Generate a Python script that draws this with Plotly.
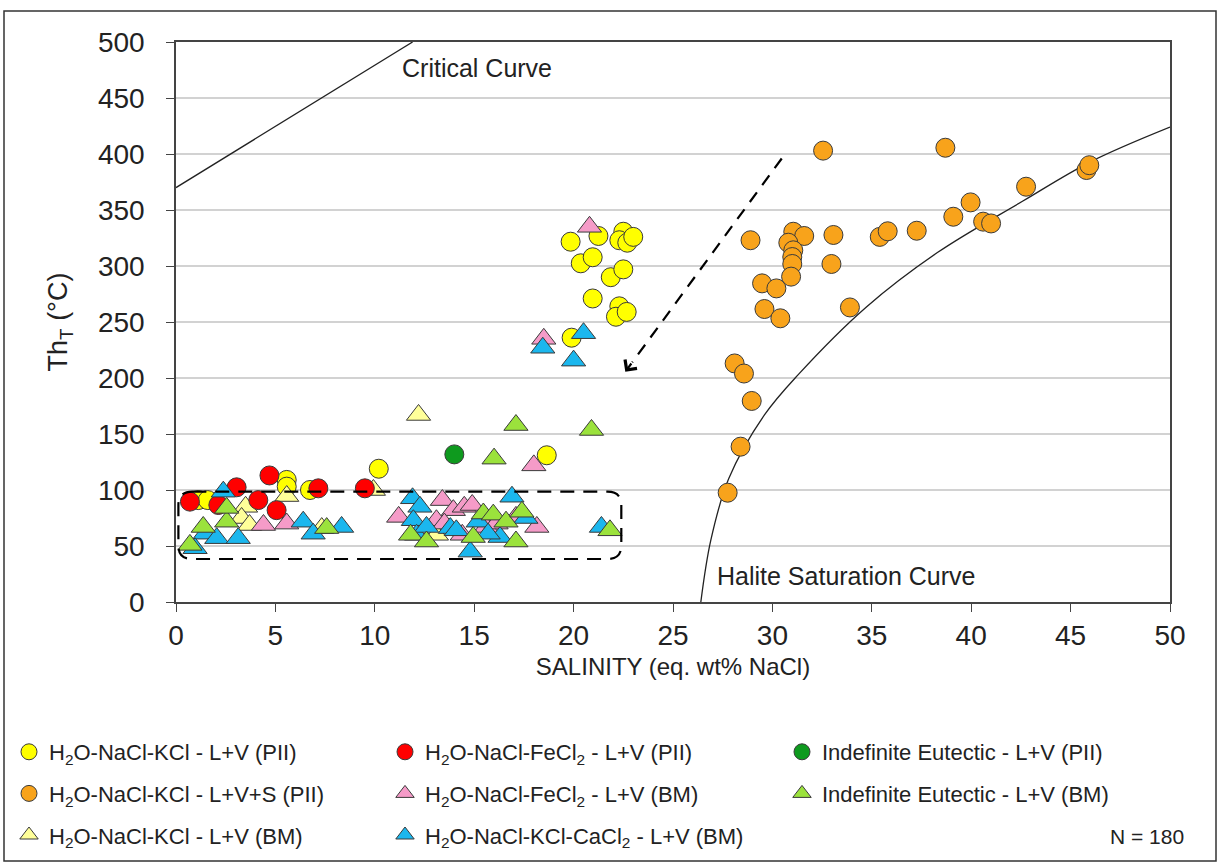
import plotly.graph_objects as go

# ---------------- data (salinity wt% NaCl, Th °C) ----------------
yellow_x = [19.85, 21.25, 22.5, 22.3, 22.7, 23.0, 20.36, 20.96, 21.87, 22.5, 20.96, 22.3, 22.13, 22.67,
            19.9, 18.65, 10.2, 1.12, 1.6, 5.57, 5.57, 6.74]
yellow_y = [321.7, 326.8, 330.6, 323, 320.8, 326, 302.4, 307.8, 290, 297, 271, 264, 254.7, 259,
            236, 131, 119, 91, 91, 109, 103, 100]

orange_x = [32.55, 28.9, 31.05, 31.6, 30.8, 31.05, 31.0, 31.0, 30.94, 33.07, 32.97, 29.48, 30.2, 29.6,
            30.4, 33.9, 35.4, 35.8, 37.26, 28.1, 28.57, 28.96, 28.4, 27.75, 38.7, 39.97, 39.1, 40.6,
            41.0, 42.76, 45.8, 45.94]
orange_y = [403, 323, 330.6, 326.8, 320.8, 314, 308, 301.8, 290.5, 327.7, 301.8, 284.5, 280, 261.6,
            253.3, 263, 326, 331, 331.5, 213, 204, 179.5, 138.7, 97.6, 405.6, 356.8, 344, 339.6,
            338, 370.8, 385.7, 390]

red_x = [4.7, 3.05, 4.14, 5.06, 7.16, 9.5, 0.7, 2.13]
red_y = [113, 102.4, 91, 82, 101.5, 101.5, 89.6, 86.6]

green_circ_x = [14.0]
green_circ_y = [131.8]

pink_x = [4.4, 5.57, 11.2, 13.4, 13.95, 14.5, 14.9, 13.1, 13.5, 14.4, 15.6, 16.1, 17.1, 18.15, 18.0,
          18.5, 20.8]
pink_y = [68.75, 70, 76, 91, 82, 85, 86.6, 73, 70, 60, 67, 70, 76, 67, 122, 235, 335]

lgreen_x = [2.55, 1.37, 0.7, 7.58, 2.55, 11.8, 12.6, 14.95, 15.46, 15.96, 16.6, 17.4, 17.1, 16.0, 17.1,
            20.9, 21.83]
lgreen_y = [71.7, 67, 51, 66, 84, 60, 54, 58, 79, 78, 71.7, 80.6, 54, 128, 158, 153.6, 64]

lyellow_x = [5.57, 3.5, 3.3, 3.7, 7.33, 13.1, 9.93, 12.2]
lyellow_y = [94.6, 85, 75, 68.75, 66, 60, 100, 167]

cyan_x = [2.38, 1.46, 2.05, 3.13, 6.4, 8.33, 0.96, 6.9, 11.9, 12.27, 11.94, 12.1, 13.8, 14.1, 15.2,
          14.8, 16.9, 16.3, 17.6, 12.6, 15.7, 18.45, 20.5, 20.0, 21.4]
cyan_y = [98.5, 61, 57, 57, 71.7, 67, 48, 61, 92.6, 85, 73, 60, 66, 64, 71.7, 45, 94, 58, 75, 67, 61,
          227, 240, 215.5, 67]

critical_x = [0, 11.9]
critical_y = [370, 500]

halite_x = [26.4, 26.9, 27.8, 29.6, 31.3, 34.7, 38.3, 42.6, 46.0, 50.0]
halite_y = [0, 55, 110, 167, 203, 263, 312, 358, 393, 424]

x_ticks = [0, 5, 10, 15, 20, 25, 30, 35, 40, 45, 50]
y_ticks = [0, 50, 100, 150, 200, 250, 300, 350, 400, 450, 500]

# ---------------- figure ----------------
FONT = "Liberation Sans, Arial, sans-serif"
W, H = 1218, 862
L, R, T, B = 176, 48, 42, 260
PW, PH = W - L - R, H - T - B


def px2paper_x(px):
    return (px - L) / PW


def px2paper_y(py):
    return (H - B - py) / PH


fig = go.Figure()

# reference curves
fig.add_trace(go.Scatter(x=critical_x, y=critical_y, mode="lines",
                         line=dict(color="#222222", width=1.3), showlegend=False, hoverinfo="skip"))
fig.add_trace(go.Scatter(x=halite_x, y=halite_y, mode="lines",
                         line=dict(color="#222222", width=1.3, shape="spline", smoothing=1.0),
                         showlegend=False, hoverinfo="skip"))

OUT = dict(color="#3a3a3a", width=1)
CIRC = 19
TRI = 21

series = [
    # (name, x, y, symbol, color, legend, group)
    ("H<sub>2</sub>O-NaCl-KCl - L+V (PII)", yellow_x, yellow_y, "circle", "#FFFF00", "legend", "a1"),
    ("H<sub>2</sub>O-NaCl-KCl - L+V+S (PII)", orange_x, orange_y, "circle", "#F8A31B", "legend", "a2"),
    ("H<sub>2</sub>O-NaCl-KCl - L+V (BM)", lyellow_x, lyellow_y, "triangle-up", "#FFFF99", "legend", "a3"),
    ("H<sub>2</sub>O-NaCl-FeCl<sub>2</sub> - L+V (PII)", red_x, red_y, "circle", "#FF0000", "legend2", "b1"),
    ("H<sub>2</sub>O-NaCl-FeCl<sub>2</sub> - L+V (BM)", pink_x, pink_y, "triangle-up", "#F59BC8", "legend2", "b2"),
    ("H<sub>2</sub>O-NaCl-KCl-CaCl<sub>2</sub> - L+V (BM)", cyan_x, cyan_y, "triangle-up", "#1BB7EE", "legend2", "b3"),
    ("Indefinite Eutectic - L+V (PII)", green_circ_x, green_circ_y, "circle", "#0E9A1E", "legend3", "c1"),
    ("Indefinite Eutectic - L+V (BM)", lgreen_x, lgreen_y, "triangle-up", "#9BE23C", "legend3", "c2"),
]

for name, xs, ys, sym, col, leg, grp in series:
    fig.add_trace(go.Scatter(
        x=xs, y=ys, mode="markers", name=name, legend=leg, legendgroup=grp,
        marker=dict(symbol=sym, size=CIRC if sym == "circle" else TRI, color=col, line=OUT),
    ))

# dashed rounded rectangle around low-temperature cluster
x0, x1, y0, y1 = 0.12, 22.4, 38.4, 98.5
rx, ry = 0.7, 12.0
path = (f"M {x0+rx},{y1} L {x1-rx},{y1} Q {x1},{y1} {x1},{y1-ry} L {x1},{y0+ry} "
        f"Q {x1},{y0} {x1-rx},{y0} L {x0+rx},{y0} Q {x0},{y0} {x0},{y0+ry} "
        f"L {x0},{y1-ry} Q {x0},{y1} {x0+rx},{y1} Z")
fig.add_shape(type="path", path=path, xref="x", yref="y",
              line=dict(color="black", width=2.2, dash="14px,9px"), layer="above")

# dashed arrow
fig.add_shape(type="line", x0=30.47, y0=396, x1=22.95, y1=214, xref="x", yref="y",
              line=dict(color="black", width=2.2, dash="12px,9px"), layer="above")
fig.add_annotation(x=22.6, y=205.6, ax=22.96, ay=214.3, xref="x", yref="y", axref="x", ayref="y",
                   text="", showarrow=True, arrowhead=4, arrowsize=1.3, arrowwidth=2.2,
                   arrowcolor="black")

# outer frame
fig.add_shape(type="rect", xref="paper", yref="paper",
              x0=px2paper_x(4), x1=px2paper_x(1216), y0=px2paper_y(861), y1=px2paper_y(11),
              line=dict(color="#333333", width=1.5), layer="below")

# text labels
fig.add_annotation(x=11.25, y=477, xref="x", yref="y", text="Critical Curve", showarrow=False,
                   xanchor="left", yanchor="middle", font=dict(size=25, color="#222222", family=FONT))
fig.add_annotation(x=27.1, y=23, xref="x", yref="y", text="Halite Saturation Curve", showarrow=False,
                   xanchor="left", yanchor="middle", font=dict(size=25, color="#222222", family=FONT))
fig.add_annotation(x=px2paper_x(1186), y=px2paper_y(836), xref="paper", yref="paper", text="N = 180",
                   showarrow=False, xanchor="right", yanchor="middle",
                   font=dict(size=21, color="#222222", family=FONT))

axis_common = dict(showline=True, linecolor="#444444", linewidth=1.5, mirror=True,
                   ticks="outside", ticklen=8, tickcolor="#444444", tickwidth=1.2,
                   tickfont=dict(size=28, color="#222222", family=FONT), zeroline=False)

fig.update_xaxes(range=[0, 50], tickvals=x_ticks, showgrid=False,
                 title=dict(text="SALINITY (eq. wt% NaCl)", font=dict(size=24, color="#222222", family=FONT),
                            standoff=8),
                 ticklabelstandoff=0, **axis_common)
fig.update_yaxes(range=[0, 500], tickvals=y_ticks, showgrid=True, gridcolor="#d2d2d2", gridwidth=1.5,
                 title=dict(text="Th<sub>T</sub> (°C)", font=dict(size=27, color="#222222", family=FONT),
                            standoff=22),
                 ticklabelstandoff=16, **axis_common)

leg_common = dict(orientation="v", xanchor="left", yanchor="top", bgcolor="rgba(0,0,0,0)",
                  font=dict(size=22, color="#222222", family=FONT), tracegroupgap=10,
                  itemsizing="trace", itemwidth=30)
fig.update_layout(
    width=W, height=H,
    margin=dict(l=L, r=R, t=T, b=B, autoexpand=False),
    paper_bgcolor="white", plot_bgcolor="white",
    font=dict(family=FONT, color="#222222"),
    legend=dict(x=px2paper_x(9), y=px2paper_y(731), **leg_common),
    legend2=dict(x=px2paper_x(385), y=px2paper_y(731), **leg_common),
    legend3=dict(x=px2paper_x(782), y=px2paper_y(731), **leg_common),
)

fig.write_html("out.html")
